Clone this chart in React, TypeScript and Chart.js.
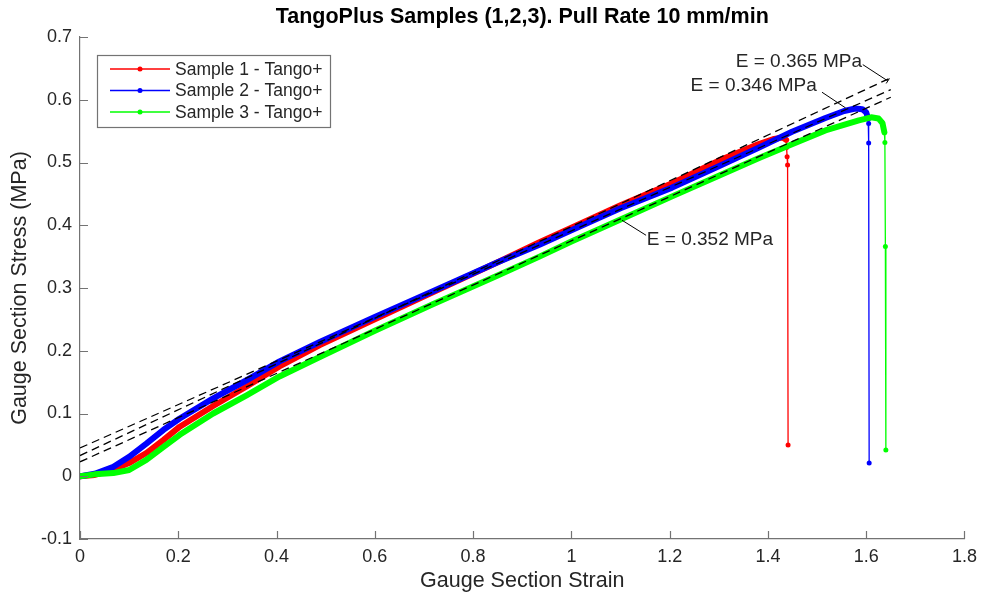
import React, { useEffect, useRef } from "react";
import { Chart, registerables } from "chart.js";

Chart.register(...registerables);

// ---------- data ----------
const xTickValues = [0, 0.2, 0.4, 0.6, 0.8, 1, 1.2, 1.4, 1.6, 1.8];
const yTickValues = [-0.1, 0, 0.1, 0.2, 0.3, 0.4, 0.5, 0.6, 0.7];

const seriesNames = ["Sample 1 - Tango+", "Sample 2 - Tango+", "Sample 3 - Tango+"];

// Sample 1 (red) loading curve
const strain1 = [0, 0.03, 0.068, 0.1, 0.135, 0.17, 0.203, 0.271, 0.339, 0.406, 0.488, 0.6, 0.718, 0.85, 0.935, 1.0, 1.1, 1.205, 1.3, 1.38, 1.41, 1.43, 1.437];
const stress1 = [0, 0.002, 0.011, 0.021, 0.037, 0.058, 0.079, 0.112, 0.143, 0.175, 0.209, 0.25, 0.293, 0.341, 0.373, 0.396, 0.432, 0.467, 0.503, 0.529, 0.537, 0.54, 0.536];
// Sample 1 failure drop
const dropStrain1 = [1.438, 1.439, 1.44, 1.441];
const dropStress1 = [0.524, 0.509, 0.496, 0.05];

// Sample 2 (blue)
const strain2 = [0, 0.03, 0.068, 0.1, 0.135, 0.17, 0.203, 0.271, 0.339, 0.406, 0.488, 0.6, 0.718, 0.85, 0.935, 1.0, 1.1, 1.205, 1.3, 1.382, 1.449, 1.517, 1.555, 1.578, 1.592, 1.6, 1.604];
const stress2 = [0, 0.004, 0.015, 0.031, 0.052, 0.074, 0.092, 0.124, 0.153, 0.183, 0.214, 0.254, 0.295, 0.341, 0.369, 0.392, 0.427, 0.46, 0.494, 0.524, 0.549, 0.571, 0.582, 0.586, 0.585, 0.58, 0.57];
const dropStrain2 = [1.605, 1.605, 1.606];
const dropStress2 = [0.562, 0.531, 0.021];

// Sample 3 (green)
const strain3 = [0, 0.03, 0.068, 0.1, 0.135, 0.17, 0.203, 0.271, 0.339, 0.406, 0.488, 0.6, 0.718, 0.85, 0.935, 1.0, 1.1, 1.205, 1.3, 1.382, 1.449, 1.517, 1.585, 1.61, 1.625, 1.633, 1.637];
const stress3 = [0, 0.003, 0.005, 0.01, 0.026, 0.047, 0.066, 0.1, 0.129, 0.159, 0.19, 0.232, 0.274, 0.32, 0.35, 0.374, 0.409, 0.446, 0.479, 0.507, 0.529, 0.551, 0.567, 0.572, 0.57, 0.563, 0.548];
const dropStrain3 = [1.638, 1.639, 1.64];
const dropStress3 = [0.532, 0.366, 0.042];

// Linear fits (dashed)
const fitStrain = [0, 1.65];
const fitStressE365 = [0.033, 0.635];
const fitStressE346 = [0.045, 0.616];
const fitStressE352 = [0.023, 0.604];

const fitLabels = ["E = 0.365 MPa", "E = 0.346 MPa", "E = 0.352 MPa"];

const colors = ["#ff0000", "#0000ff", "#00ff00"];
const TEXT = "#262626";
const AXIS = "#737373";
const FONT = "'Liberation Sans', Arial, Helvetica, sans-serif";

function pts(xs: number[], ys: number[]) {
  return xs.map((x, i) => ({ x, y: ys[i] }));
}

function sampleDataset(i: number, xs: number[], ys: number[], dx: number[], dy: number[]) {
  const n = xs.length;
  const data = pts(xs, ys).concat(pts(dx, dy));
  return {
    label: seriesNames[i],
    data,
    borderColor: colors[i],
    backgroundColor: colors[i],
    borderWidth: 6,
    borderJoinStyle: "round" as const,
    borderCapStyle: "round" as const,
    pointRadius: data.map((_, k) => (k >= n ? 2.5 : 0)),
    pointBorderWidth: 0,
    pointBackgroundColor: colors[i],
    segment: {
      borderWidth: (ctx: any) => (ctx.p0DataIndex >= n - 1 ? 1.3 : 6),
    },
    order: 3 - i,
    tension: 0,
  };
}

function fitDataset(ys: number[]) {
  return {
    label: "fit",
    data: pts(fitStrain, ys),
    borderColor: "#000000",
    borderWidth: 1.3,
    borderDash: [8, 5],
    pointRadius: 0,
    order: 0,
  };
}

const decorPlugin = {
  id: "decor",
  afterDraw(chart: any) {
    const { ctx, chartArea, scales } = chart;
    const xs = scales.x;
    const ys = scales.y;
    const X = (v: number) => xs.getPixelForValue(v);
    const Y = (v: number) => ys.getPixelForValue(v);
    ctx.save();

    // inward ticks
    ctx.strokeStyle = AXIS;
    ctx.lineWidth = 1.2;
    ctx.beginPath();
    xTickValues.forEach((v) => {
      const px = Math.round(X(v)) + 0.5;
      ctx.moveTo(px, chartArea.bottom);
      ctx.lineTo(px, chartArea.bottom - 8);
    });
    yTickValues.forEach((v) => {
      const py = Math.round(Y(v)) + 0.5;
      ctx.moveTo(chartArea.left, py);
      ctx.lineTo(chartArea.left + 8, py);
    });
    ctx.stroke();

    // title
    ctx.fillStyle = "#000000";
    ctx.font = `bold 21.5px ${FONT}`;
    ctx.textAlign = "center";
    ctx.textBaseline = "middle";
    const cx = (chartArea.left + chartArea.right) / 2;
    ctx.fillText("TangoPlus Samples (1,2,3). Pull Rate 10 mm/min", cx, 17);

    // axis titles
    ctx.fillStyle = TEXT;
    ctx.font = `21.5px ${FONT}`;
    ctx.fillText("Gauge Section Strain", cx, 581);
    ctx.save();
    ctx.translate(20, (chartArea.top + chartArea.bottom) / 2);
    ctx.rotate(-Math.PI / 2);
    ctx.fillText("Gauge Section Stress (MPa)", 0, 0);
    ctx.restore();

    // annotations (anchor points in data units)
    ctx.font = `19px ${FONT}`;
    ctx.strokeStyle = "#000000";
    ctx.lineWidth = 1;
    const annots = [
      { text: fitLabels[0], tx: 1.463, ty: 0.661, a: [1.593, 0.656], b: [1.644, 0.63], tip: true },
      { text: fitLabels[1], tx: 1.371, ty: 0.622, a: [1.51, 0.612], b: [1.558, 0.587], tip: false },
      { text: fitLabels[2], tx: 1.282, ty: 0.377, a: [1.152, 0.384], b: [1.103, 0.408], tip: false },
    ];
    annots.forEach((an) => {
      ctx.fillStyle = TEXT;
      ctx.fillText(an.text, X(an.tx), Y(an.ty));
      const ax = X(an.a[0]);
      const ay = Y(an.a[1]);
      const bx = X(an.b[0]);
      const by = Y(an.b[1]);
      ctx.beginPath();
      ctx.moveTo(ax, ay);
      ctx.lineTo(bx, by);
      if (an.tip) {
        const dx = bx - ax;
        const dy = by - ay;
        const L = Math.hypot(dx, dy);
        const nx = -dy / L;
        const ny = dx / L;
        ctx.moveTo(bx - nx * 3, by - ny * 3);
        ctx.lineTo(bx + nx * 3, by + ny * 3);
      }
      ctx.stroke();
    });

    // legend box
    const lx = chartArea.left + 17;
    const ly = chartArea.top + 18;
    const lw = 233;
    const lh = 72;
    ctx.fillStyle = "#ffffff";
    ctx.fillRect(lx, ly, lw, lh);
    ctx.strokeStyle = AXIS;
    ctx.lineWidth = 1.2;
    ctx.strokeRect(lx + 0.5, ly + 0.5, lw, lh);
    ctx.font = `17.5px ${FONT}`;
    ctx.textAlign = "left";
    seriesNames.forEach((name, i) => {
      const rowY = ly + 14 + i * 21.5;
      ctx.strokeStyle = colors[i];
      ctx.lineWidth = 1.3;
      ctx.beginPath();
      ctx.moveTo(lx + 13, rowY);
      ctx.lineTo(lx + 73, rowY);
      ctx.stroke();
      ctx.fillStyle = colors[i];
      ctx.beginPath();
      ctx.arc(lx + 43, rowY, 2.5, 0, Math.PI * 2);
      ctx.fill();
      ctx.fillStyle = TEXT;
      ctx.fillText(name, lx + 78, rowY + 1);
    });

    ctx.restore();
  },
};

export default function App() {
  const ref = useRef<HTMLCanvasElement | null>(null);
  useEffect(() => {
    if (!ref.current) return;
    const chart = new Chart(ref.current, {
      type: "line",
      data: {
        datasets: [
          sampleDataset(0, strain1, stress1, dropStrain1, dropStress1),
          sampleDataset(1, strain2, stress2, dropStrain2, dropStress2),
          sampleDataset(2, strain3, stress3, dropStrain3, dropStress3),
          fitDataset(fitStressE365),
          fitDataset(fitStressE346),
          fitDataset(fitStressE352),
        ] as any,
      },
      options: {
        animation: false,
        responsive: false,
        devicePixelRatio: 1,
        parsing: false as any,
        layout: { padding: { left: 0, right: 18, top: 37, bottom: 0 } },
        plugins: { legend: { display: false }, tooltip: { enabled: false }, title: { display: false } },
        scales: {
          x: {
            type: "linear",
            min: 0,
            max: 1.8,
            afterBuildTicks: (s: any) => {
              s.ticks = xTickValues.map((v) => ({ value: v }));
            },
            afterFit: (s: any) => {
              s.height = 59;
            },
            ticks: {
              color: TEXT,
              font: { family: FONT, size: 18 },
              padding: 7,
              maxRotation: 0,
              autoSkip: false,
              callback: (v: any) => String(Number(Number(v).toFixed(1))),
            },
            grid: { display: false, drawTicks: false },
            border: { display: true, color: AXIS, width: 1.2 },
          },
          y: {
            type: "linear",
            min: -0.1,
            max: 0.7,
            afterBuildTicks: (s: any) => {
              s.ticks = yTickValues.map((v) => ({ value: v }));
            },
            afterFit: (s: any) => {
              s.width = 80;
            },
            ticks: {
              color: TEXT,
              font: { family: FONT, size: 18 },
              padding: 8,
              autoSkip: false,
              callback: (v: any) => String(Number(Number(v).toFixed(1))),
            },
            grid: { display: false, drawTicks: false },
            border: { display: true, color: AXIS, width: 1.2 },
          },
        },
      },
      plugins: [decorPlugin],
    });
    return () => chart.destroy();
  }, []);
  return (
    <div style={{ position: "fixed", left: 0, top: 0, width: 984, height: 598, background: "#ffffff" }}>
      <canvas ref={ref} width={984} height={598} style={{ width: 984, height: 598 }} />
    </div>
  );
}
